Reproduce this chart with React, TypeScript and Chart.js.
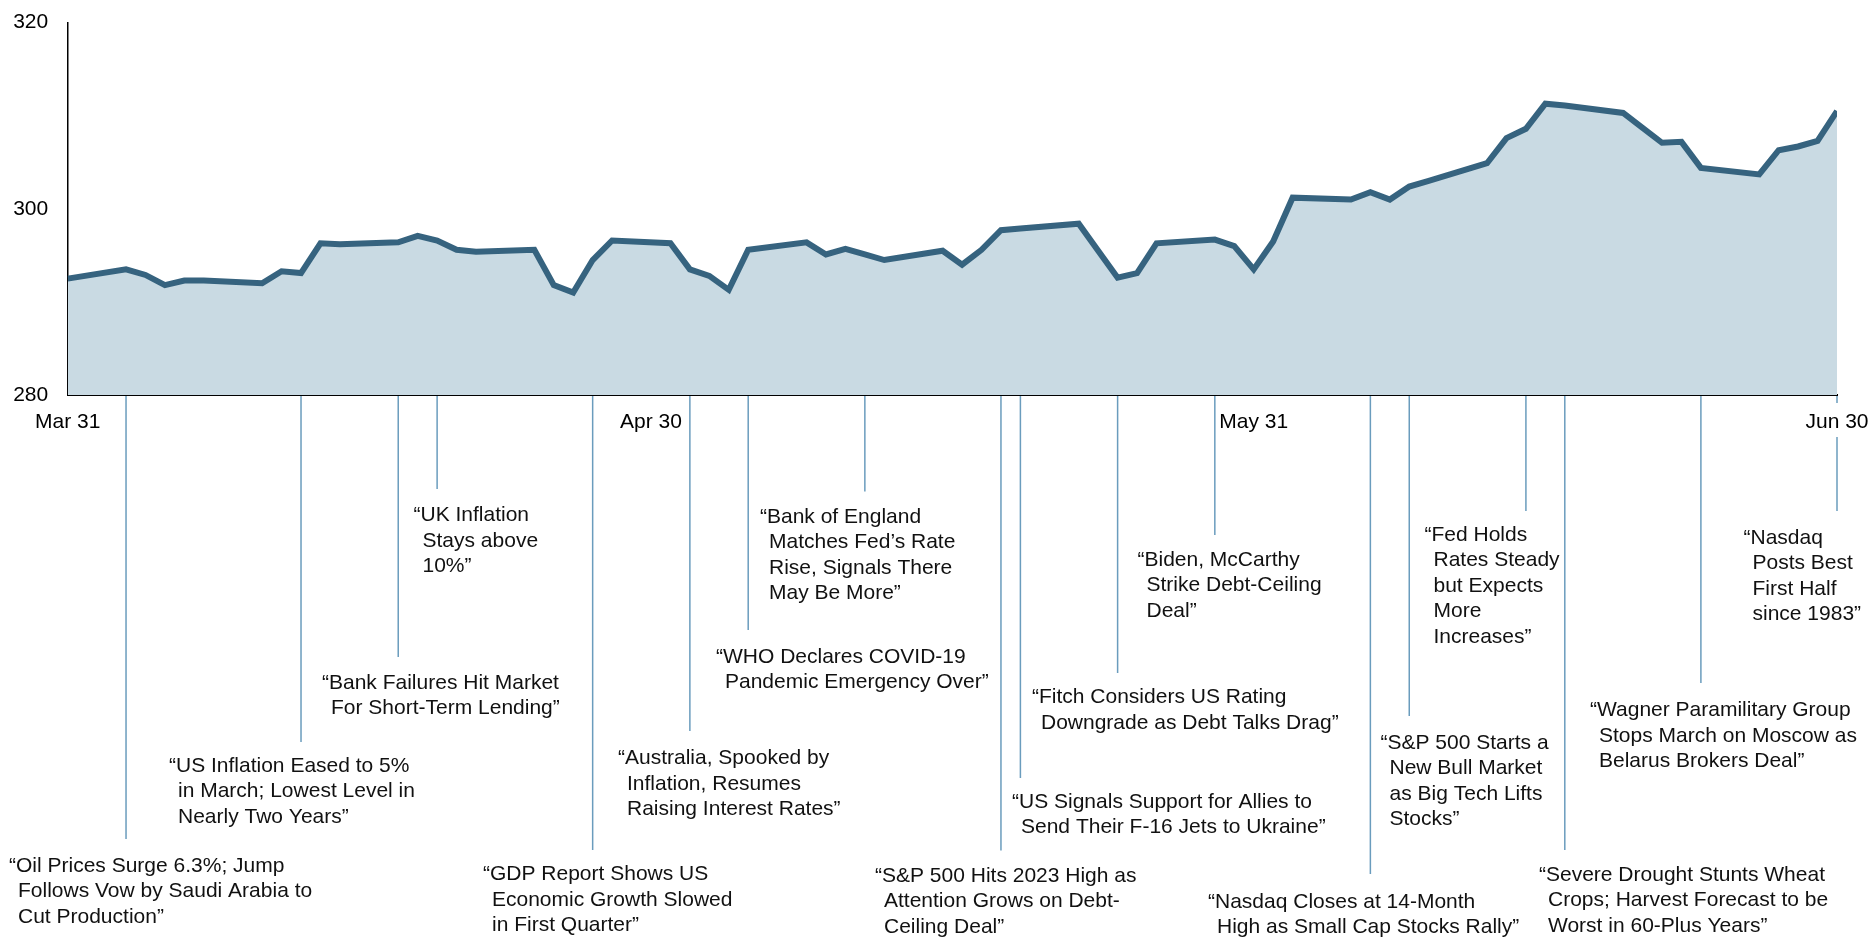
import React, { useEffect, useRef } from 'react';
import { Chart, registerables } from 'chart.js';

Chart.register(...registerables);

// ---- Data -----------------------------------------------------------------
// x = calendar days after Mar 31, 2023 (0 = Mar 31, 91 = Jun 30)
const DAYS = [
  0, 3, 4, 5, 6, 7, 10, 11, 12, 13, 14, 17, 18, 19, 20, 21, 24, 25, 26, 27, 28,
  31, 32, 33, 34, 35, 38, 39, 40, 41, 42, 45, 46, 47, 48, 49, 52, 53, 54, 55, 56,
  59, 60, 61, 62, 63, 66, 67, 68, 69, 70, 73, 74, 75, 76, 77, 80, 81, 82, 83, 84,
  87, 88, 89, 90, 91,
];
const VALUES = [
  292.5, 293.5, 292.9, 291.8, 292.3, 292.3, 292.0, 293.3, 293.1, 296.3, 296.2,
  296.4, 297.1, 296.6, 295.6, 295.4, 295.6, 291.8, 291.0, 294.5, 296.6,
  296.3, 293.5, 292.8, 291.3, 295.6, 296.4, 295.1, 295.7, 295.1, 294.5,
  295.5, 294.0, 295.6, 297.7, 297.9, 298.4, 295.5, 292.6, 293.1, 296.3,
  296.7, 296.0, 293.5, 296.5, 301.2, 301.0, 301.8, 301.0, 302.4, 303.0,
  304.9, 307.6, 308.6, 311.3, 311.1, 310.3, 308.7, 307.1, 307.2, 304.4,
  303.7, 306.3, 306.7, 307.3, 310.5,
];

const X_TICK_DAYS = [0, 30, 61, 91];
const X_TICK_LABELS = ['Mar 31', 'Apr 30', 'May 31', 'Jun 30'];
const Y_TICKS = [280, 300, 320];

const EVENT_DAYS = [3, 12, 17, 19, 27, 32, 35, 41, 48, 49, 54, 59, 67, 69, 75, 77, 84, 91];
const EVENT_TEXTS: string[][] = [
  ['“Oil Prices Surge 6.3%; Jump', 'Follows Vow by Saudi Arabia to', 'Cut Production”'],
  ['“US Inflation Eased to 5%', 'in March; Lowest Level in', 'Nearly Two Years”'],
  ['“Bank Failures Hit Market', 'For Short-Term Lending”'],
  ['“UK Inflation', 'Stays above', '10%”'],
  ['“GDP Report Shows US', 'Economic Growth Slowed', 'in First Quarter”'],
  ['“Australia, Spooked by', 'Inflation, Resumes', 'Raising Interest Rates”'],
  ['“WHO Declares COVID-19', 'Pandemic Emergency Over”'],
  ['“Bank of England', 'Matches Fed’s Rate', 'Rise, Signals There', 'May Be More”'],
  ['“S&P 500 Hits 2023 High as', 'Attention Grows on Debt-', 'Ceiling Deal”'],
  ['“US Signals Support for Allies to', 'Send Their F-16 Jets to Ukraine”'],
  ['“Fitch Considers US Rating', 'Downgrade as Debt Talks Drag”'],
  ['“Biden, McCarthy', 'Strike Debt-Ceiling', 'Deal”'],
  ['“Nasdaq Closes at 14-Month', 'High as Small Cap Stocks Rally”'],
  ['“S&P 500 Starts a', 'New Bull Market', 'as Big Tech Lifts', 'Stocks”'],
  ['“Fed Holds', 'Rates Steady', 'but Expects', 'More', 'Increases”'],
  ['“Severe Drought Stunts Wheat', 'Crops; Harvest Forecast to be', 'Worst in 60-Plus Years”'],
  ['“Wagner Paramilitary Group', 'Stops March on Moscow as', 'Belarus Brokers Deal”'],
  ['“Nasdaq', 'Posts Best', 'First Half', 'since 1983”'],
];

// ---- Layout of the callouts (pixels) ------------------------------------
const EVENT_LINE_END = [839, 742, 657, 489, 850, 731, 630, 491.5, 850.5, 778, 673, 535, 874, 716, 511, 850, 683, 511];
const EVENT_TEXT_X = [9, 169, 322, 413.5, 483, 618, 716, 760, 875, 1012, 1032, 1137.5, 1208, 1380.5, 1424.5, 1539, 1590, 1743.5];
const EVENT_TEXT_Y = [866, 766, 683, 515.5, 874.5, 758.5, 657, 517, 876, 802, 697.5, 560, 902, 743, 535, 875, 710.5, 538];
const EVENT_GAP: (number[] | null)[] = [
  null, null, null, null, null, null, null, null, null, null, null, null, null, null, null, null, null, [403, 437],
];

const FONT = '"Liberation Sans", Arial, Helvetica, sans-serif';
const FONT_SIZE = 21;
const LINE_H = 25.5;
const INDENT = 9;
const LINE_COLOR = '#36637f';
const FILL_COLOR = '#c9dae3';
const CALLOUT_COLOR = '#6a9cbd';
const TEXT_COLOR = '#111111';

const calloutPlugin = {
  id: 'callouts',
  afterDraw(chart: any) {
    const { ctx, chartArea } = chart;
    const xs = chart.scales.x;
    ctx.save();
    ctx.strokeStyle = CALLOUT_COLOR;
    ctx.lineWidth = 1.5;
    EVENT_DAYS.forEach((d, i) => {
      const x = xs.getPixelForValue(d);
      const gap = EVENT_GAP[i];
      const segs = gap
        ? [[chartArea.bottom + 1, gap[0]], [gap[1], EVENT_LINE_END[i]]]
        : [[chartArea.bottom + 1, EVENT_LINE_END[i]]];
      segs.forEach(([a, b]) => {
        ctx.beginPath();
        ctx.moveTo(x, a);
        ctx.lineTo(x, b);
        ctx.stroke();
      });
    });
    ctx.fillStyle = TEXT_COLOR;
    ctx.font = `${FONT_SIZE}px ${FONT}`;
    ctx.textAlign = 'left';
    ctx.textBaseline = 'middle';
    EVENT_TEXTS.forEach((lines, i) => {
      lines.forEach((t, k) => {
        ctx.fillText(t, EVENT_TEXT_X[i] + (k > 0 ? INDENT : 0), EVENT_TEXT_Y[i] + k * LINE_H);
      });
    });
    ctx.restore();
  },
};

export default function App() {
  const ref = useRef<HTMLCanvasElement | null>(null);

  useEffect(() => {
    if (!ref.current) return;
    const points = DAYS.map((d, i) => ({ x: d, y: VALUES[i] }));
    const chart = new Chart(ref.current, {
      type: 'line',
      data: {
        datasets: [
          {
            data: points,
            borderColor: LINE_COLOR,
            backgroundColor: FILL_COLOR,
            borderWidth: 6,
            fill: 'start',
            pointRadius: 0,
            tension: 0,
            borderJoinStyle: 'miter',
          },
        ],
      },
      options: {
        responsive: false,
        animation: false,
        devicePixelRatio: 1,
        layout: { padding: { left: 0, right: 32, top: 22.7, bottom: 503 } },
        plugins: { legend: { display: false }, tooltip: { enabled: false } },
        scales: {
          x: {
            type: 'linear',
            min: 0,
            max: 91,
            grid: { display: false, drawTicks: false },
            border: { display: true, color: '#000', width: 2 },
            afterBuildTicks: (s: any) => {
              s.ticks = X_TICK_DAYS.map((v) => ({ value: v }));
            },
            ticks: {
              padding: 15,
              color: '#000',
              font: { size: FONT_SIZE, family: FONT },
              maxRotation: 0,
              autoSkip: false,
              callback: (v: any) => X_TICK_LABELS[X_TICK_DAYS.indexOf(Number(v))] ?? '',
            },
            afterFit: (s: any) => {
              s.height = 40;
              s.paddingLeft = 0;
              s.paddingRight = 0;
            },
          },
          y: {
            min: 280,
            max: 320,
            grid: { display: false, drawTicks: false },
            border: { display: true, color: '#000', width: 1.5 },
            afterBuildTicks: (s: any) => {
              s.ticks = Y_TICKS.map((v) => ({ value: v }));
            },
            ticks: {
              padding: 19.5,
              color: '#000',
              font: { size: FONT_SIZE, family: FONT },
            },
            afterFit: (s: any) => {
              s.width = 67.7;
              s.paddingTop = 0;
              s.paddingBottom = 0;
            },
          },
        },
      },
      plugins: [calloutPlugin],
    });
    return () => chart.destroy();
  }, []);

  return (
    <div style={{ position: 'fixed', left: 0, top: 0, width: 1869, height: 938, background: '#fff' }}>
      <canvas ref={ref} width={1869} height={938} style={{ display: 'block', width: 1869, height: 938 }} />
    </div>
  );
}
